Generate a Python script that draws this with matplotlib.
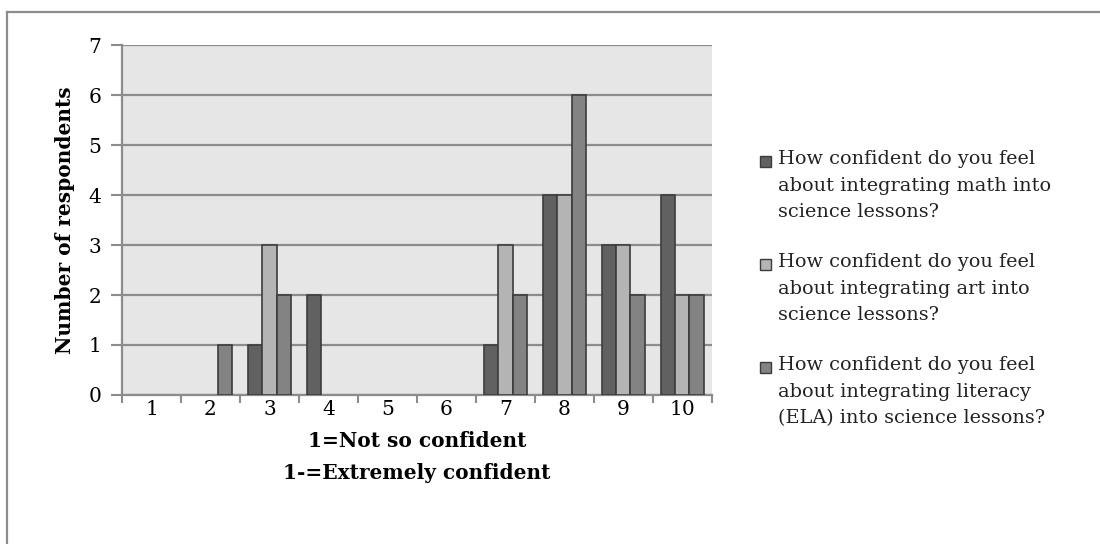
import numpy as np
import matplotlib
matplotlib.use("Agg")
from matplotlib import pyplot as plt
from matplotlib.lines import Line2D
from matplotlib.patches import Rectangle

# Data
categories = ['1', '2', '3', '4', '5', '6', '7', '8', '9', '10']
math_vals = [0, 0, 1, 2, 0, 0, 1, 4, 3, 4]
art_vals = [0, 0, 3, 0, 0, 0, 3, 4, 3, 2]
ela_vals = [0, 1, 2, 0, 0, 0, 2, 6, 2, 2]
series_labels = [
    'How confident do you feel\nabout integrating math into\nscience lessons?',
    'How confident do you feel\nabout integrating art into\nscience lessons?',
    'How confident do you feel\nabout integrating literacy\n(ELA) into science lessons?',
]
colors = ['#616161', '#b4b4b4', '#838383']

plt.rcParams['font.family'] = ['DejaVu Serif']
FS = 14.5

fig = plt.figure(figsize=(11, 5.44), dpi=100)
ax = fig.add_axes([0.111, 0.274, 0.536, 0.643])

x = np.arange(len(categories))
w = 0.245
for k, vals in enumerate([math_vals, art_vals, ela_vals]):
    vals = np.array(vals)
    keep = vals > 0  # empty bars are not drawn at all
    ax.bar(x[keep] + (k - 1) * w, vals[keep], width=w, color=colors[k],
           edgecolor='#3c3c3c', linewidth=1.2, zorder=3)

ax.set_facecolor('#e6e6e6')
ax.set_xlim(-0.5, 9.5)
ax.set_ylim(0, 7)
ax.set_yticks(range(0, 8))
ax.yaxis.grid(True, color='#8c8c8c', linewidth=1.6, zorder=0)
ax.set_axisbelow(True)

ax.set_xticks(np.arange(-0.5, 10, 1))
ax.set_xticklabels([])
ax.set_xticks(x, minor=True)
ax.set_xticklabels(categories, minor=True)
ax.tick_params(axis='x', which='minor', length=0, pad=4, labelsize=FS)
ax.tick_params(axis='x', which='major', length=6, width=1.5, color='#8c8c8c')
ax.tick_params(axis='y', length=8, width=1.5, color='#8c8c8c', pad=7, labelsize=FS)

for s in ['top', 'right']:
    ax.spines[s].set_visible(False)
for s in ['left', 'bottom']:
    ax.spines[s].set_color('#8c8c8c')
    ax.spines[s].set_linewidth(1.6)

ax.set_ylabel('Number of respondents', fontweight='bold', fontsize=FS, labelpad=10)
ax.set_xlabel('1=Not so confident\n1-=Extremely confident', fontweight='bold',
              fontsize=FS, labelpad=8, linespacing=1.75)

# legend: square handle next to the first line of each entry
W, H = 1100.0, 544.0
for k, lab in enumerate(series_labels):
    top = 150 + k * 103
    fig.patches.append(Rectangle((760 / W, 1 - (top + 17) / H), 11 / W, 11 / H,
                                 transform=fig.transFigure, facecolor=colors[k],
                                 edgecolor='#3c3c3c', linewidth=1.0))
    fig.text(778 / W, 1 - top / H, lab, ha='left', va='top', fontsize=13.9,
             linespacing=1.62, color='#222222')

# outer chart border (top and left only visible)
fig.add_artist(Line2D([7 / W, 1], [1 - 12 / H, 1 - 12 / H],
                      transform=fig.transFigure, color='#8c8c8c', linewidth=1.6))
fig.add_artist(Line2D([7 / W, 7 / W], [0, 1 - 12 / H],
                      transform=fig.transFigure, color='#8c8c8c', linewidth=1.6))

fig.savefig('out.png', dpi=100)
